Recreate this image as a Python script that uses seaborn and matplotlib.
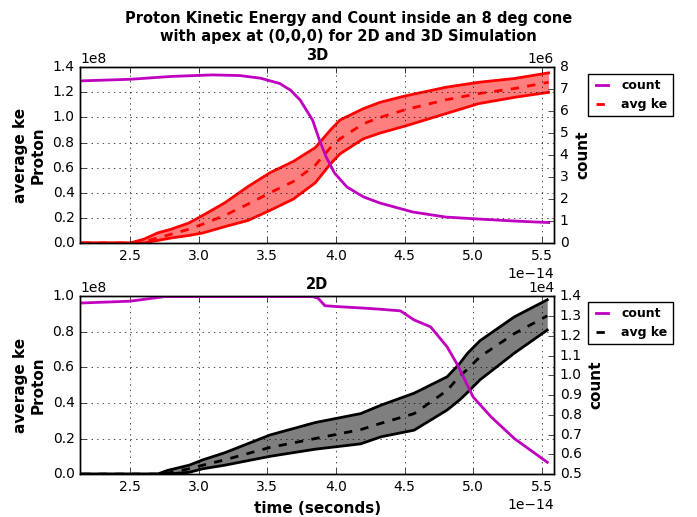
import numpy as np
import pandas as pd
import matplotlib
matplotlib.use("Agg")
import matplotlib.pyplot as plt
import seaborn as sns

plt.style.use('classic')
plt.rcParams['xtick.labelsize'] = 10
plt.rcParams['ytick.labelsize'] = 10

# ---- 3D simulation (time in units of 1e-14 s) ----
t3_count = [2.15, 2.5, 2.8, 3.1, 3.3, 3.45, 3.59, 3.67, 3.74, 3.83, 3.88, 3.93, 3.99, 4.08, 4.2, 4.32, 4.56, 4.8, 5.04, 5.3, 5.55]
count_3d = [7.38, 7.45, 7.58, 7.65, 7.62, 7.50, 7.26, 6.95, 6.50, 5.59, 4.68, 3.90, 3.18, 2.55, 2.10, 1.82, 1.41, 1.18, 1.09, 1.00, 0.93]

t3_ke = [2.15, 2.5, 2.6, 2.7, 2.8, 2.93, 3.03, 3.19, 3.36, 3.52, 3.69, 3.85, 3.96, 4.03, 4.2, 4.32, 4.5, 4.8, 5.04, 5.3, 5.55]
ke_3d_hi = [0.00, 0.00, 0.03, 0.08, 0.11, 0.16, 0.22, 0.32, 0.45, 0.56, 0.65, 0.76, 0.90, 0.98, 1.07, 1.12, 1.17, 1.24, 1.28, 1.31, 1.355]
ke_3d_mid = [0.00, 0.00, 0.01, 0.04, 0.07, 0.11, 0.15, 0.22, 0.31, 0.40, 0.49, 0.62, 0.76, 0.83, 0.95, 1.00, 1.06, 1.14, 1.19, 1.23, 1.28]
ke_3d_lo = [0.00, 0.00, 0.00, 0.02, 0.04, 0.06, 0.08, 0.13, 0.18, 0.26, 0.35, 0.48, 0.63, 0.71, 0.83, 0.875, 0.93, 1.03, 1.11, 1.16, 1.20]

# ---- 2D simulation ----
t2_count = [2.15, 2.5, 2.75, 3.0, 3.5, 3.83, 3.87, 3.92, 4.0, 4.2, 4.33, 4.47, 4.57, 4.69, 4.81, 4.88, 4.93, 5.0, 5.13, 5.3, 5.54]
count_2d = [1.366, 1.375, 1.398, 1.398, 1.398, 1.398, 1.390, 1.352, 1.348, 1.340, 1.334, 1.326, 1.280, 1.245, 1.144, 1.060, 0.990, 0.890, 0.790, 0.680, 0.560]

t2_ke = [2.15, 2.7, 2.77, 2.93, 3.03, 3.19, 3.52, 3.85, 4.18, 4.33, 4.57, 4.81, 4.9, 4.96, 5.05, 5.3, 5.54]
ke_2d_hi = [0.00, 0.00, 0.02, 0.05, 0.08, 0.12, 0.22, 0.29, 0.34, 0.388, 0.455, 0.547, 0.62, 0.68, 0.75, 0.884, 0.98]
ke_2d_mid = [0.00, 0.00, 0.005, 0.03, 0.05, 0.08, 0.15, 0.20, 0.25, 0.286, 0.34, 0.47, 0.55, 0.59, 0.66, 0.79, 0.89]
ke_2d_lo = [0.00, 0.00, 0.00, 0.01, 0.03, 0.05, 0.10, 0.14, 0.17, 0.21, 0.247, 0.36, 0.416, 0.46, 0.53, 0.68, 0.81]


def panel(ax, title, t_ke, lo, mid, hi, t_c, cnt, color, ke_lim, c_lim, c_scale, leg_y):
    tk = np.array(t_ke) * 1e-14
    tc = np.array(t_c) * 1e-14
    ke = pd.DataFrame({'t': tk, 'lo': np.array(lo) * 1e8, 'mid': np.array(mid) * 1e8, 'hi': np.array(hi) * 1e8})
    cn = pd.DataFrame({'t': tc, 'count': np.array(cnt) * c_scale})

    # band between min and max ke, with the average dashed in the middle
    ax.fill_between(ke['t'], ke['lo'], ke['hi'], color=color, alpha=0.5, lw=0)
    sns.lineplot(data=ke, x='t', y='hi', ax=ax, color=color, lw=2)
    sns.lineplot(data=ke, x='t', y='lo', ax=ax, color=color, lw=2)
    sns.lineplot(data=ke, x='t', y='mid', ax=ax, color=color, lw=2, ls='--')
    ax.set_ylim(*ke_lim)
    ax.set_xlim(2.136e-14, 5.59e-14)
    ax.grid(True)
    ax.set_title(title, fontweight='bold', fontsize=10.5)
    ax.set_ylabel('average ke\nProton', fontweight='bold', fontsize=11)
    ax.set_xlabel('')

    # count on the right axis
    ax2 = ax.twinx()
    sns.lineplot(data=cn, x='t', y='count', ax=ax2, color='m', lw=2)
    ax2.set_ylim(*c_lim)
    ax2.set_ylabel('count', fontweight='bold', fontsize=11)
    ax2.set_xlim(2.136e-14, 5.59e-14)
    ax2.ticklabel_format(axis='y', style='sci', scilimits=(0, 0))

    h_count = plt.Line2D([], [], color='m', lw=2)
    h_ke = plt.Line2D([], [], color=color, lw=2, ls='--')
    fig.legend([h_count, h_ke], ['count', 'avg ke'], loc='upper left',
               bbox_to_anchor=(0.843, leg_y),
               prop={'weight': 'bold', 'size': 9}, handlelength=1.5,
               fancybox=False, borderaxespad=0)
    return ax2


fig = plt.figure(figsize=(6.97, 5.17), dpi=100, facecolor='white')
ax_top = fig.add_axes([0.115, 0.530, 0.68, 0.340])
ax_bot = fig.add_axes([0.115, 0.083, 0.68, 0.344])

panel(ax_top, '3D', t3_ke, ke_3d_lo, ke_3d_mid, ke_3d_hi, t3_count, count_3d, 'r',
      (0, 1.4e8), (0, 8e6), 1e6, 0.857)
panel(ax_bot, '2D', t2_ke, ke_2d_lo, ke_2d_mid, ke_2d_hi, t2_count, count_2d, 'k',
      (0, 1.0e8), (0.5e4, 1.4e4), 1e4, 0.416)
ax_bot.set_xlabel('time (seconds)', fontweight='bold', fontsize=11)

fig.suptitle('Proton Kinetic Energy and Count inside an 8 deg cone\nwith apex at (0,0,0) for 2D and 3D Simulation',
             fontweight='bold', fontsize=10.5, y=0.978)

fig.savefig('out.png', dpi=100, facecolor='white')
